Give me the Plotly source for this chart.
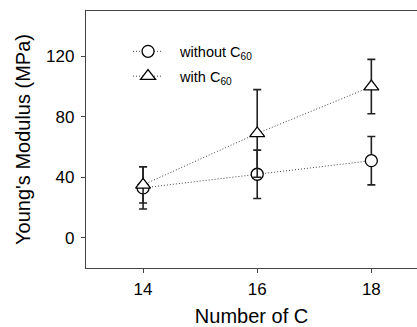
import plotly.graph_objects as go

carbons = [14, 16, 18]
without_c60 = [33, 42, 51]
without_err = [14, 16, 16]
with_c60 = [35, 69, 100]
with_err = [12, 29, 18]

font = "Arial, Liberation Sans, sans-serif"
fig = go.Figure()
fig.add_trace(go.Scatter(
    x=carbons, y=without_c60, name="&nbsp;&nbsp;&nbsp;without C<sub>60</sub>", mode="lines+markers",
    legendgroup="a",
    line=dict(color="#444444", width=1, dash="1px,2px"),
    marker=dict(symbol="circle", size=12, color="white", line=dict(color="black", width=1.3)),
    error_y=dict(type="data", array=without_err, color="#222222", thickness=1.6, width=4),
))
fig.add_trace(go.Scatter(
    x=carbons, y=with_c60, name="&nbsp;&nbsp;&nbsp;with C<sub>60</sub>", mode="lines+markers",
    legendgroup="b",
    line=dict(color="#444444", width=1, dash="1px,2px"),
    marker=dict(symbol="triangle-up", size=13, color="white", line=dict(color="black", width=1.3)),
    error_y=dict(type="data", array=with_err, color="#222222", thickness=1.6, width=4),
))
fig.update_layout(
    width=417, height=327,
    margin=dict(l=86, r=0, t=11, b=59),
    plot_bgcolor="white", paper_bgcolor="white",
    font=dict(family=font, size=17, color="black"),
    showlegend=True,
    legend=dict(x=0.127, y=0.905, xanchor="left", yanchor="top", bgcolor="rgba(0,0,0,0)",
                font=dict(size=14.5), tracegroupgap=3),
    xaxis=dict(range=[13, 18.8], tickvals=carbons, ticks="outside", ticklen=4,
               tickwidth=1, tickcolor="#444444", showline=True, linecolor="#444444", linewidth=1.3, mirror=True,
               showgrid=False, zeroline=False, automargin=False, ticklabelstandoff=1,
               title=dict(text="Number of C", font=dict(size=20), standoff=15)),
    yaxis=dict(range=[-20, 150], tickvals=[0, 40, 80, 120], ticks="outside", ticklen=4,
               tickwidth=1, tickcolor="#444444", showline=True, linecolor="#444444", linewidth=1.3,
               showgrid=False, zeroline=False, automargin=False, ticklabelstandoff=3,
               title=dict(text="Young's Modulus (MPa)", font=dict(size=20), standoff=10)),
)
fig.write_html("out.html", config={"displayModeBar": False},
               post_script="document.body.style.margin='0';document.body.style.overflow='hidden';")
